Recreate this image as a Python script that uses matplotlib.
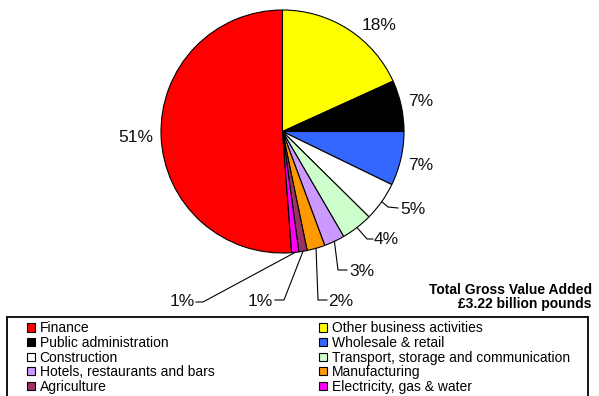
import numpy as np
import matplotlib.pyplot as plt
from matplotlib.patches import Patch, Rectangle

plt.rcParams['font.family'] = ['Liberation Sans', 'DejaVu Sans']

# Gross value added by sector (% of total)
sectors = ["Finance", "Other business activities", "Public administration",
           "Wholesale & retail", "Construction",
           "Transport, storage and communication",
           "Hotels, restaurants and bars", "Manufacturing", "Agriculture",
           "Electricity, gas & water"]
shares = [51.2, 18.2, 6.8, 7.2, 5.2, 4.2, 2.75, 2.4, 1.1, 0.95]
colors = ["#FF0000", "#FFFF00", "#000000", "#3366FF", "#FFFFFF",
          "#CCFFCC", "#CC99FF", "#FF9900", "#993366", "#FF00FF"]
total_gva = 3.22

W, H = 599, 396
fig = plt.figure(figsize=(W / 100, H / 100), dpi=100)

# pie placement in pixels
cx, cy, rad = 282.5, 131.5, 121.5
ax = fig.add_axes([(cx - rad) / W, (H - cy - rad) / H, 2 * rad / W, 2 * rad / H])

def px(x, y):
    # pixel position -> pie data coords
    return (x - cx) / rad, (cy - y) / rad

start = 90 + shares[0] / sum(shares) * 360
wedges, _ = ax.pie(shares, colors=colors, startangle=start, counterclock=False,
                   radius=1, wedgeprops=dict(edgecolor="black", linewidth=0.8))
ax.set_xlim(-1, 1)
ax.set_ylim(-1, 1)
ax.set_aspect("equal")
ax.axis("off")

# label centres (pixels) and leader lines (kink, end) for the thin slices
label_pos = [(136, 138), (379, 25), (421, 102), (421, 166), (413, 209),
             (386, 239), (362, 271), (341, 301), (260, 301), (182, 302)]
leaders = {4: ((388, 207), (398, 208)),
           5: ((367, 239), (373, 239)),
           6: ((338, 270), (347, 270)),
           7: ((318, 300), (327, 300)),
           8: ((284, 300), (275, 300)),
           9: ((203, 302), (196, 302))}

for i, (w, v) in enumerate(zip(wedges, shares)):
    tx, ty = px(*label_pos[i])
    ax.text(tx, ty, f"{v:.0f}%", ha="center", va="center", fontsize=12.5,
            color="#111111")
    if i in leaders:
        mid = np.deg2rad((w.theta1 + w.theta2) / 2)
        kx, ky = px(*leaders[i][0])
        ex, ey = px(*leaders[i][1])
        ax.plot([np.cos(mid), kx, ex], [np.sin(mid), ky, ey], color="black",
                lw=0.8, clip_on=False)

fig.text(592 / W, 1 - 290 / H, "Total Gross Value Added", ha="right",
         va="center", fontsize=10, fontweight="bold")
fig.text(592 / W, 1 - 304 / H, f"£{total_gva:.2f} billion pounds", ha="right",
         va="center", fontsize=10, fontweight="bold")

# legend frame, open at the bottom edge
fig.patches.append(Rectangle((7 / W, -0.05), 581 / W, 0.05 + 1 - 317 / H,
                             transform=fig.transFigure, fill=False,
                             edgecolor="black", lw=1.3))

handles = [Patch(facecolor=c, edgecolor="black", lw=0.8) for c in colors]
cols = [(27, [0, 2, 4, 6, 8]), (319, [1, 3, 5, 7, 9])]
for x0, idx in cols:
    leg = fig.legend([handles[j] for j in idx], [sectors[j] for j in idx],
                     loc="upper left", bbox_to_anchor=(x0 / W, 1 - 321.5 / H),
                     frameon=False, fontsize=10, borderpad=0, borderaxespad=0,
                     handlelength=0.55, handleheight=0.55, handletextpad=0.35,
                     labelspacing=0.04)

fig.savefig("out.png", dpi=100)
